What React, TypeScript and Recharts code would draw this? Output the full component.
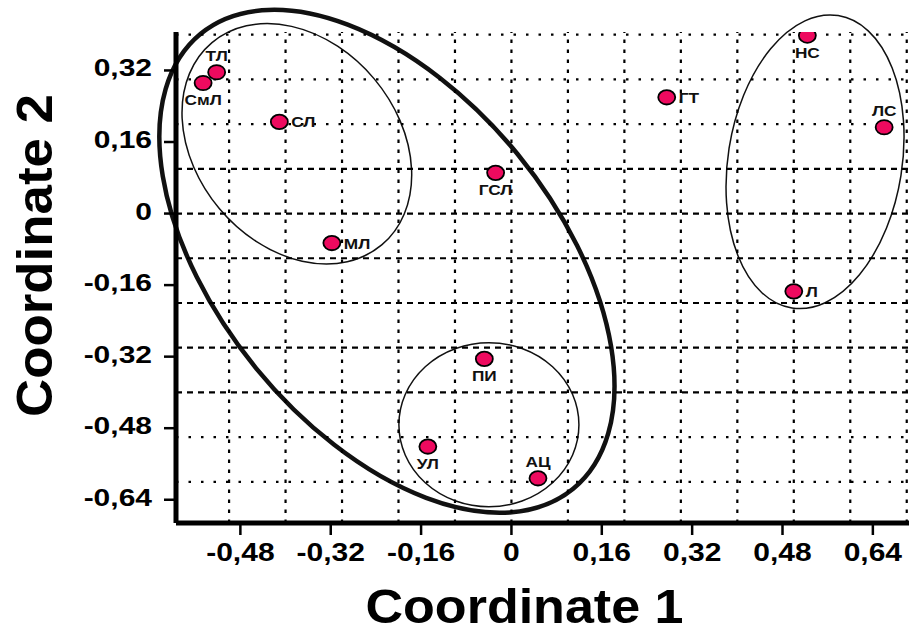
import React from "react";
import { ScatterChart, Scatter, XAxis, YAxis, ReferenceLine, ReferenceArea } from "recharts";

const FONT = "'Liberation Sans', Arial, sans-serif";

// samples (coordinate 1 / coordinate 2)
const names = ["ТЛ", "СмЛ", "СЛ", "МЛ", "ГСЛ", "ГТ", "НС", "ЛС", "Л", "ПИ", "АЦ", "УЛ"];
const coord1 = [-0.522, -0.546, -0.411, -0.318, -0.028, 0.275, 0.524, 0.66, 0.5, -0.048, 0.047, -0.148];
const coord2 = [0.316, 0.292, 0.205, -0.066, 0.091, 0.26, 0.398, 0.193, -0.174, -0.325, -0.592, -0.521];
const labelSide = ["above", "below", "right", "right", "below", "right", "below", "above", "right", "below", "above", "below"];

const axisTicks = [-0.64, -0.48, -0.32, -0.16, 0, 0.16, 0.32];
const xTicks = [-0.48, -0.32, -0.16, 0, 0.16, 0.32, 0.48, 0.64];
const gridX = [-0.5, -0.4, -0.3, -0.2, -0.1, 0, 0.1, 0.2, 0.3, 0.4, 0.5, 0.6, 0.7];
const gridY = [-0.6, -0.5, -0.4, -0.3, -0.2, -0.1, 0, 0.1, 0.2, 0.3, 0.4];
const dashedRows = [0.1, 0, -0.1, -0.2, -0.3, -0.4];

// cluster outlines: centre, half axes (data units), tilt in degrees
const ellCx = [-0.2205, -0.38, 0.5376, -0.0399];
const ellCy = [-0.1067, 0.156, 0.1158, -0.4723];
const ellRx = [0.5207, 0.2338, 0.1541, 0.1594];
const ellRy = [0.3779, 0.2259, 0.331, 0.1834];
const ellTilt = [50.7, 50, 9, 0];
const ellWeight = [4.5, 1.5, 1.5, 1.5];

const points = names.map((name, i) => ({ name, x: coord1[i], y: coord2[i], side: labelSide[i] }));

const fmt = (v: number) => String(v).replace(".", ",");

function XTick({ x, y, payload }: any) {
  return (
    <g transform={`translate(${x},${y})`}>
      <text transform="scale(1.2,1)" textAnchor="middle" y={18} fontSize={25} fontWeight={700} fontFamily={FONT} fill="#000">
        {fmt(payload.value)}
      </text>
    </g>
  );
}

function YTick({ x, y, payload }: any) {
  return (
    <g transform={`translate(${x},${y})`}>
      <text transform="scale(1.25,1)" textAnchor="end" y={6} fontSize={24} fontWeight={700} fontFamily={FONT} fill="#000">
        {fmt(payload.value)}
      </text>
    </g>
  );
}

function renderPoint(props: any) {
  const { cx, cy, payload } = props;
  let tx = 0;
  let ty = 0;
  let anchor = "middle";
  if (payload.side === "above") ty = -11;
  else if (payload.side === "below") ty = 22;
  else {
    tx = 12;
    ty = 5.5;
    anchor = "start";
  }
  return (
    <g>
      <ellipse cx={cx} cy={cy} rx={8.5} ry={7.2} fill="#ee0a5f" stroke="#000" strokeWidth={1.8} />
      <g transform={`translate(${cx + tx},${cy + ty}) scale(1.15,1)`}>
        <text textAnchor={anchor} fontSize={15} fontWeight={700} fontFamily={FONT} fill="#111">
          {payload.name}
        </text>
      </g>
    </g>
  );
}

function outline(tilt: number, weight: number) {
  return (p: any) => {
    const cx = p.x + p.width / 2;
    const cy = p.y + p.height / 2;
    return (
      <ellipse
        cx={cx}
        cy={cy}
        rx={Math.abs(p.width) / 2}
        ry={Math.abs(p.height) / 2}
        transform={`rotate(${tilt} ${cx} ${cy})`}
        fill="none"
        stroke="#111"
        strokeWidth={weight}
      />
    );
  };
}

const xTitle = (p: any) => {
  const vb = p.viewBox;
  return (
    <text x={vb.x + vb.width / 2 - 18} y={vb.y + 100} textAnchor="middle" fontSize={48} fontWeight={700}
      fontFamily={FONT} fill="#000" textLength={318} lengthAdjust="spacingAndGlyphs">
      Coordinate 1
    </text>
  );
};

const yTitle = (p: any) => {
  const vb = p.viewBox;
  const cy = vb.y + vb.height / 2 - 22;
  return (
    <text x={52} y={cy} transform={`rotate(-90 52 ${cy})`} textAnchor="middle" fontSize={50} fontWeight={700}
      fontFamily={FONT} fill="#000" textLength={323} lengthAdjust="spacingAndGlyphs">
      Coordinate 2
    </text>
  );
};

export default function App() {
  return (
    <div style={{ position: "absolute", left: 0, top: 0, background: "#fff" }}>
      <ScatterChart width={912} height={634} margin={{ top: 32, right: 3, bottom: 51, left: 0 }}>
        <XAxis
          type="number"
          dataKey="x"
          domain={[-0.594, 0.704]}
          allowDataOverflow
          ticks={xTicks}
          interval={0}
          height={60}
          tickSize={12}
          tickMargin={8}
          axisLine={{ stroke: "#000", strokeWidth: 5 }}
          tickLine={{ stroke: "#000", strokeWidth: 2.5 }}
          tick={<XTick />}
          label={xTitle}
        />
        <YAxis
          type="number"
          dataKey="y"
          domain={[-0.692, 0.406]}
          allowDataOverflow
          ticks={axisTicks}
          interval={0}
          width={176}
          tickSize={12}
          tickMargin={12}
          axisLine={{ stroke: "#000", strokeWidth: 5 }}
          tickLine={{ stroke: "#000", strokeWidth: 2.5 }}
          tick={<YTick />}
          label={yTitle}
        />
        {gridX.map((v) => (
          <ReferenceLine key={"gx" + v} x={v} stroke="#000" strokeWidth={2.2} strokeDasharray="3.5 6.5" />
        ))}
        {gridY.map((v) => (
          <ReferenceLine key={"gy" + v} y={v} stroke="#000" strokeWidth={2.2}
            strokeDasharray={dashedRows.includes(v) ? "6 5" : "2.5 10"} />
        ))}
        {ellCx.map((cx, i) => (
          <ReferenceArea
            key={"e" + i}
            x1={cx - ellRx[i]}
            x2={cx + ellRx[i]}
            y1={ellCy[i] - ellRy[i]}
            y2={ellCy[i] + ellRy[i]}
            ifOverflow="visible"
            shape={outline(ellTilt[i], ellWeight[i])}
          />
        ))}
        <Scatter data={points} shape={renderPoint} isAnimationActive={false} />
      </ScatterChart>
    </div>
  );
}
